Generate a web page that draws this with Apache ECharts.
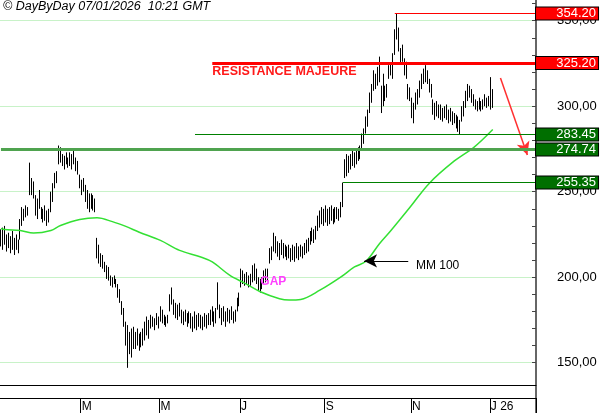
<!DOCTYPE html>
<html><head><meta charset="utf-8">
<script src="https://cdn.jsdelivr.net/npm/echarts@6/dist/echarts.min.js"></script>
<style>html,body{margin:0;padding:0;background:#fff}#c{width:600px;height:413px}</style>
</head><body><div id="c"></div>
<script>
// Daily bars (index 0 = 02/01/2025 ... 256 = 07/01/2026)
const lows = [
218,216,219,215,217,214,216,213,216,214,
222,230,233,235,236,248,248,246,236,234,
240,234,232,233,230,232,238,244,252,255,
266,267,265,263,266,264,265,263,266,262,
260,252,248,250,244,240,238,240,239,238,
211,208,206,205,203,199,198,195,194,196,
194,188,185,178,171,160,147,155,153,158,
158,160,157,159,160,163,166,164,170,171,
169,172,170,174,173,172,171,173,180,184,
178,176,175,177,173,172,174,171,173,170,
168,170,169,171,170,169,171,170,172,172,
174,171,173,181,176,172,174,171,174,173,
175,173,174,180,183,194,196,195,196,194,
195,197,198,196,192,191,193,196,197,198,
208,210,215,214,212,210,213,211,212,210,
211,209,210,209,211,210,212,211,213,214,
215,219,221,220,222,227,229,231,230,232,
230,231,233,231,232,234,233,235,241,258,
259,261,263,265,264,266,268,269,275,278,
284,288,296,302,309,310,312,314,296,300,
303,305,316,318,316,330,339,332,325,326,
318,316,304,303,293,290,298,301,305,310,
313,314,313,308,305,295,292,294,293,292,
291,293,292,290,291,289,290,287,285,283.5,
291,294,299,303,305,302,300,298,297,298,
297,298,300,299,300,298,299];
const highs = [
228,229,230,225,226,224,227,223,225,222,
234,241,240,242,241,267,258,256,248,246,
251,241,240,242,239,240,250,255,261,262,
277,276,272,271,273,270,273,272,275,270,
268,260,257,258,254,251,249,249,248,246,
223,219,214,213,209,207,206,201,200,201,
199,196,193,186,182,174,172,168,170,171,
168,170,167,168,170,174,177,175,178,177,
176,179,177,183,181,178,177,178,190,194,
187,185,184,185,181,180,181,179,180,179,
177,180,178,179,178,177,179,178,179,181,
183,180,182,197,184,182,183,180,182,181,
183,180,181,188,191,205,204,202,203,201,
202,207,208,205,200,199,200,204,205,205,
217,218,226,224,221,220,222,220,219,218,
219,217,219,218,220,218,219,218,220,222,
223,227,229,228,230,236,239,241,240,242,
240,241,242,240,241,241,240,244,255.35,269,
272,271,272,274,273,274,276,277,284,287,
294,298,308,313,321,319,323,329,312,319,
312,313,324,325,331,345,354.2,346,334,336,
328,326,313,311,305,302,308,310,315,319,
322,324,321,316,313,304,302,303,301,301,
299,300,301,298,299,297,296,295,294,292,
300,303,309,313,312,310,307,304,303,305,
303,304,307,305,306,317,310];
// MM 100 (bar index, value)
const maIdx = [0,2,10,17,26,31,41,50,58,65,72,83,93,104,110,119,127,135,145,150,156,166,177,184,190,197,203,213,223,236,246,256];
const maVal = [228.5,227.9,227.3,225.8,227.3,230.2,233.7,234.7,232.5,229.7,226.3,221.5,215.7,211.8,208.9,201.2,196.4,191.5,187.4,186.6,187,192.4,200.2,206,209.3,219.6,227.3,241,255,268,275.8,286.4];
// Horizontal levels
const levels = [354.20, 325.20, 283.45, 274.74, 255.35];
const levelStart = [205, 110, 101, 0, 178];
const levelLabels = ['354.20','325.20','283.45','274.74','255.35'];
// Axes
const nSlots = 279;
const monthIdx = [42, 83, 125, 169, 214, 255];
const monthLabels = ['M', 'M', 'J', 'S', 'N', 'J 26'];
const yTickValues = [150,160,170,180,190,200,210,220,230,240,250,260,270,280,290,300,310,320,330,340,350,360];
const yLabelValues = [150, 200, 250, 300, 350];

const FONT = 'Liberation Sans, Arial, sans-serif';
const categories = Array.from({length: nSlots}, (_, i) => String(i));
const bars = lows.map((lo, i) => [lo, highs[i], lo, highs[i]]);
const ma = maIdx.map((x, k) => [x, maVal[k]]);

const levelColor = ['#ff0000', '#ff0000', '#008000', '#4fa34f', '#008000'];
const levelWidth = [1, 3, 1, 3, 1];
const tagColor = ['#ff0000', '#ff0000', '#006f00', '#006f00', '#006f00'];

const levelLines = levels.map((v, k) => [
  {coord: [levelStart[k], v],
   lineStyle: {color: levelColor[k], width: levelWidth[k], type: 'solid', opacity: 1},
   label: {show: true, position: 'end', distance: 1,
     formatter: '{a|' + levelLabels[k] + '}',
     backgroundColor: tagColor[k], borderColor: '#000', borderWidth: 1,
     padding: [0, 2, 0, 2],
     rich: {a: {width: 58, align: 'right', color: '#fff', fontSize: 13, lineHeight: 12, fontFamily: FONT}}}},
  {coord: [nSlots - 1, v]}
]);

const chart = echarts.init(document.getElementById('c'), null, {renderer: 'canvas'});
chart.setOption({
  animation: false,
  backgroundColor: '#fff',
  title: {text: '© DayByDay 07/01/2026  10:21 GMT', left: 3, top: 0, padding: 0,
    textStyle: {fontSize: 12.5, fontStyle: 'italic', fontWeight: 'normal', color: '#000', fontFamily: FONT}},
  grid: [
    {left: 0, width: 536, top: 3.6, height: 376.2},
    {left: 0, width: 536, top: 385, height: 13},
    {left: 0, width: 536, top: 0, height: 413}
  ],
  xAxis: [
    {type: 'category', gridIndex: 0, data: categories, show: false},
    {type: 'category', gridIndex: 1, data: categories, position: 'bottom',
     axisLine: {show: true, lineStyle: {color: '#000', width: 1}},
     axisTick: {show: true, length: 15, interval: (i) => monthIdx.includes(i), lineStyle: {color: '#000'}},
     axisLabel: {show: true, interval: (i) => monthIdx.includes(i), align: 'left', margin: 3,
       formatter: (v, i) => { const k = monthIdx.indexOf(i); return k >= 0 ? monthLabels[k] : ''; },
       color: '#000', fontSize: 12, fontFamily: FONT},
     splitLine: {show: false}},
    {type: 'category', gridIndex: 1, data: categories, position: 'top',
     axisLine: {show: true, lineStyle: {color: '#000', width: 1}},
     axisTick: {show: false}, axisLabel: {show: false}, splitLine: {show: false}},
    {type: 'category', gridIndex: 2, data: categories, show: false}
  ],
  yAxis: [
    {type: 'value', gridIndex: 0, position: 'right', min: 140, max: 360, interval: 10,
     axisLine: {show: false},
     axisTick: {show: true, inside: true, length: 4, customValues: yTickValues, lineStyle: {color: '#444'}},
     axisLabel: {show: true, customValues: yLabelValues, margin: 21, color: '#000', fontSize: 13, fontFamily: FONT,
       formatter: (v) => v.toFixed(2).replace('.', ',')},
     splitLine: {show: false}},
    {type: 'value', gridIndex: 0, position: 'right', min: 140, max: 360, interval: 10,
     axisLine: {show: false}, axisTick: {show: false, customValues: yLabelValues}, axisLabel: {show: false},
     splitLine: {show: true, lineStyle: {color: '#c8f2c8', width: 1}}},
    {type: 'value', gridIndex: 1, min: 0, max: 1, show: false},
    {type: 'value', gridIndex: 2, position: 'right', min: 0, max: 1,
     axisLine: {show: true, lineStyle: {color: '#666', width: 2}},
     axisTick: {show: false}, axisLabel: {show: false}, splitLine: {show: false}}
  ],
  series: [
    {type: 'line', name: 'MM 100', xAxisIndex: 0, yAxisIndex: 0, data: ma, smooth: 0.35,
     showSymbol: false, symbol: 'none', z: 3,
     lineStyle: {color: '#33e033', width: 1.5},
     markLine: {silent: true, animation: false, symbol: ['none', 'arrow'], symbolSize: [10, 13],
       label: {show: false},
       data: [
         [{coord: [212, 209.5], lineStyle: {color: '#000', width: 1, type: 'solid'}}, {coord: [189, 209.5]}],
         [{coord: [260, 316.5], lineStyle: {color: '#ff3030', width: 1.5, type: 'solid'}}, {coord: [274, 271.5]}]
       ]},
     markPoint: {silent: true, animation: false, symbol: 'circle', symbolSize: 0,
       data: [
         {coord: [110, 320], label: {show: true, position: 'right', distance: 0, formatter: 'RESISTANCE MAJEURE',
           color: '#ff1a1a', fontWeight: 'bold', fontSize: 12.5, fontFamily: FONT}},
         {coord: [135, 197.5], label: {show: true, position: 'right', distance: 0, formatter: 'GAP',
           color: '#ff40ff', fontWeight: 'bold', fontSize: 12, fontFamily: FONT}},
         {coord: [216, 206.8], label: {show: true, position: 'right', distance: 0, formatter: 'MM 100',
           color: '#000', fontSize: 12, fontFamily: FONT}}
       ]}},
    {type: 'candlestick', name: 'Cours', xAxisIndex: 0, yAxisIndex: 0, data: bars, barWidth: 1, z: 2,
     itemStyle: {color: '#444', color0: '#444', borderColor: '#000', borderColor0: '#000', borderWidth: 1},
     markLine: {silent: true, animation: false, symbol: ['none', 'none'], data: levelLines}}
  ]
});
</script></body></html>
